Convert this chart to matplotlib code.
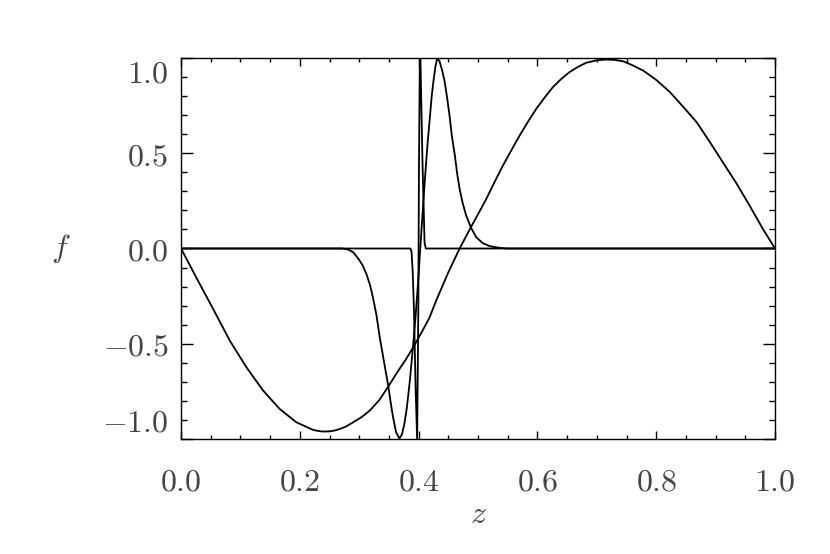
import matplotlib
matplotlib.use("Agg")
import matplotlib.pyplot as plt
from matplotlib.ticker import MultipleLocator

plt.rcParams['mathtext.fontset'] = 'cm'
plt.rcParams['font.family'] = 'serif'
plt.rcParams['font.serif'] = ['DejaVu Serif']

# broad wave
z_a = [0, 0.027, 0.054, 0.082, 0.110, 0.138, 0.166, 0.194, 0.222, 0.231, 0.240, 0.250,
       0.258, 0.267, 0.278, 0.290, 0.304, 0.318, 0.334, 0.349, 0.365, 0.378, 0.391,
       0.405, 0.418, 0.430, 0.450, 0.469, 0.486, 0.500, 0.514, 0.528, 0.542, 0.556,
       0.570, 0.584, 0.598, 0.612, 0.626, 0.640, 0.654, 0.668, 0.682, 0.700, 0.716,
       0.730, 0.745, 0.760, 0.778, 0.800, 0.823, 0.845, 0.868, 0.890, 0.912, 0.935,
       0.957, 0.980, 1.0]
f_a = [0, -0.16, -0.317, -0.483, -0.623, -0.745, -0.842, -0.912, -0.952, -0.958, -0.961, -0.960,
       -0.956, -0.948, -0.934, -0.912, -0.885, -0.850, -0.795, -0.724, -0.645, -0.585, -0.518,
       -0.440, -0.365, -0.27, -0.125, 0.0, 0.10, 0.18, 0.261, 0.35, 0.436, 0.515,
       0.593, 0.665, 0.733, 0.792, 0.847, 0.890, 0.926, 0.953, 0.975, 0.988, 0.992,
       0.990, 0.982, 0.962, 0.934, 0.885, 0.821, 0.745, 0.663, 0.560, 0.453, 0.342,
       0.226, 0.10, 0.0]

# medium wave
z_b = [0, 0.270, 0.280, 0.290, 0.300, 0.306, 0.312, 0.318, 0.323, 0.329, 0.3345, 0.342,
       0.349, 0.353, 0.357, 0.362, 0.3676, 0.372, 0.376, 0.380, 0.385, 0.391, 0.395,
       0.399, 0.404, 0.410, 0.415, 0.419, 0.422, 0.425, 0.428, 0.431, 0.435, 0.440,
       0.444, 0.448, 0.452, 0.456, 0.461, 0.465, 0.469, 0.474, 0.480, 0.488, 0.497,
       0.508, 0.520, 0.535, 0.548, 1.0]
f_b = [0, 0, -0.004, -0.02, -0.06, -0.09, -0.133, -0.19, -0.256, -0.35, -0.466, -0.60,
       -0.724, -0.81, -0.886, -0.965, -0.997, -0.975, -0.92, -0.84, -0.70, -0.50, -0.35,
       -0.18, 0.06, 0.34, 0.55, 0.69, 0.80, 0.88, 0.95, 0.996, 0.985, 0.93,
       0.873, 0.79, 0.698, 0.59, 0.488, 0.39, 0.313, 0.24, 0.173, 0.11, 0.059,
       0.028, 0.012, 0.004, 0, 0]

# narrow wave
z_c = [0, 0.386, 0.388, 0.390, 0.392, 0.395, 0.3975, 0.3995, 0.4005, 0.402, 0.403,
       0.4065, 0.410, 0.412, 1.0]
f_c = [0, 0, -0.015, -0.12, -0.308, -0.745, -1.0, -0.3, 0.4, 1.0, 1.0,
       0.45, 0.03, 0, 0]

xticks = [0.0, 0.2, 0.4, 0.6, 0.8, 1.0]
xlabels = ['$0.0$', '$0.2$', '$0.4$', '$0.6$', '$0.8$', '$1.0$']
yticks = [-1.0, -0.5, 0.0, 0.5, 1.0]
ylabels = ['$-1.0$', '$-0.5$', '$0.0$', '$0.5$', '$1.0$']

txt_col = '#444444'

fig = plt.figure(figsize=(8.3, 5.54), dpi=100)
ax = fig.add_axes([0.2181, 0.2076, 0.7157, 0.6877])

for z, f in [(z_a, f_a), (z_b, f_b), (z_c, f_c)]:
    ax.plot(z, f, color='black', lw=1.3)

ax.set_xlim(0, 1)
ax.set_ylim(-1, 1)
ax.set_xticks(xticks, xlabels)
ax.set_yticks(yticks, ylabels)
ax.xaxis.set_minor_locator(MultipleLocator(0.05))
ax.yaxis.set_minor_locator(MultipleLocator(0.1))

ax.tick_params(axis='x', which='major', direction='in', length=5.8, width=1.0,
               top=True, pad=20, labelsize=23, labelcolor=txt_col)
ax.tick_params(axis='x', which='minor', direction='in', length=2.9, width=1.0, top=True)
ax.tick_params(axis='y', which='major', direction='in', length=8.6, width=1.0,
               right=True, pad=9, labelsize=23, labelcolor=txt_col)
ax.tick_params(axis='y', which='minor', direction='in', length=4.3, width=1.0, right=True)

# IDL pushes the end labels inside the axis range
ylab = ax.get_yticklabels()
ylab[0].set_va('bottom')
ylab[-1].set_va('top')

for s in ax.spines.values():
    s.set_linewidth(1.0)

ax.set_xlabel('$z$', fontsize=23, color=txt_col, labelpad=1)
ax.set_ylabel('$f$', fontsize=23, color=txt_col, rotation=0, labelpad=30, va='center')

fig.savefig('out.png', dpi=100)
